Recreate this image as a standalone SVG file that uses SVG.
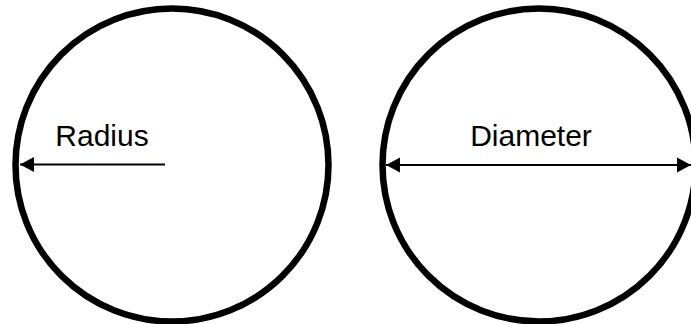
<svg xmlns="http://www.w3.org/2000/svg" width="691" height="324" viewBox="0 0 691 324">
<style>
.ring{fill:#fff;stroke:#000;stroke-width:6.5}
.lbl{font-family:"Liberation Sans",Arial,sans-serif;font-size:30px;fill:#000;text-anchor:middle}
.arr{stroke:#000;stroke-width:2;fill:none}
</style>
<defs>
<marker id="ah" markerUnits="userSpaceOnUse" markerWidth="15" markerHeight="16" refX="14" refY="8" orient="auto-start-reverse" viewBox="0 0 15 16">
<path d="M0,0.5 L14,8 L0,15.5 Z" fill="#000"/>
</marker>
</defs>
<rect width="691" height="324" fill="#fff"/>
<g id="radius-circle">
<circle class="ring" cx="172" cy="165" r="156.5"/>
<text class="lbl" x="102" y="146">Radius</text>
</g>
<g id="diameter-circle">
<circle class="ring" cx="539" cy="165" r="156.5"/>
<text class="lbl" x="531" y="146">Diameter</text>
</g>
<g id="connectors">
<line class="arr" x1="165" y1="164.5" x2="20" y2="164.5" marker-end="url(#ah)"/>
<line class="arr" x1="386" y1="165" x2="691" y2="165" marker-start="url(#ah)" marker-end="url(#ah)"/>
</g>
</svg>
